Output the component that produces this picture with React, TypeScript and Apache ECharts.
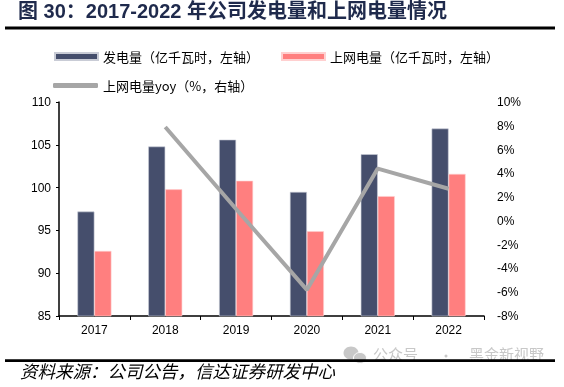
import React, { useEffect, useRef } from "react";
import * as echarts from "echarts";

const categories = ["2017", "2018", "2019", "2020", "2021", "2022"];
const generation = [97.2, 104.8, 105.6, 99.5, 103.9, 106.9];
const gridPower = [92.6, 99.8, 100.8, 94.9, 99.0, 101.6];
const gridYoy: (number | null)[] = [null, 7.9, 1.0, -5.8, 4.4, 2.7];

const titleText = "图 30：2017-2022 年公司发电量和上网电量情况";
const sourceText = "资料来源：公司公告，信达证券研发中心";
const watermarkLeft = "公众号";
const watermarkRight = "黑金新视野";
const seriesNames = ["发电量（亿千瓦时，左轴）", "上网电量（亿千瓦时，左轴）", "上网电量yoy（%，右轴）"];

export default function App() {
  const ref = useRef<HTMLDivElement>(null);
  useEffect(() => {
    const chart = echarts.init(ref.current!, null, { renderer: "svg" });
    const font = "Liberation Sans, Arial, Noto Sans CJK SC, sans-serif";
    const cjk = "Noto Sans CJK SC, sans-serif";
    const legendText = { fontSize: 13, color: "#000", fontFamily: cjk };
    chart.setOption({
      animation: false,
      textStyle: { fontFamily: font },
      graphic: [
        {
          type: "text",
          left: 18,
          top: 1,
          style: {
            text: titleText,
            fontSize: 20,
            fontWeight: "bold",
            fill: "#1F2A4C",
            fontFamily: "Liberation Sans, Noto Sans CJK SC, sans-serif",
          },
        },
        { type: "rect", shape: { x: 5, y: 26.5, width: 550, height: 3 }, style: { fill: "#000" } },
        { type: "ellipse", shape: { cx: 351, cy: 353, rx: 7.5, ry: 6.5 }, style: { fill: "#C8C8C8" } },
        { type: "ellipse", shape: { cx: 360, cy: 358, rx: 6.5, ry: 5.5 }, style: { fill: "#C8C8C8", stroke: "#fff", lineWidth: 1 } },
        {
          type: "text",
          left: 373,
          top: 346,
          style: { text: watermarkLeft, fontSize: 15, fill: "#C8C8C8", fontFamily: cjk },
        },
        { type: "circle", shape: { cx: 446, cy: 356, r: 1.5 }, style: { fill: "#C8C8C8" } },
        {
          type: "text",
          left: 469,
          top: 346,
          style: { text: watermarkRight, fontSize: 15, fill: "#C8C8C8", fontFamily: cjk },
        },
        { type: "rect", shape: { x: 5, y: 359.3, width: 550, height: 2.7 }, style: { fill: "#000" } },
        {
          type: "text",
          left: 20,
          top: 362,
          style: {
            text: sourceText,
            fontSize: 17.5,
            fontStyle: "italic",
            fill: "#000",
            fontFamily: cjk,
          },
        },
      ],
      legend: [
        {
          data: [seriesNames[0]],
          left: 49,
          top: 45,
          itemWidth: 43,
          itemHeight: 7,
          icon: "rect",
          textStyle: legendText,
        },
        {
          data: [seriesNames[1]],
          left: 276,
          top: 45,
          itemWidth: 43,
          itemHeight: 7,
          icon: "rect",
          textStyle: legendText,
        },
        {
          data: [seriesNames[2]],
          left: 48,
          top: 74,
          itemWidth: 45,
          itemHeight: 5,
          icon: "roundRect",
          textStyle: legendText,
        },
      ],
      grid: { left: 59, right: 80, top: 102, bottom: 71, containLabel: false },
      xAxis: {
        type: "category",
        data: categories,
        axisLine: { onZero: false, lineStyle: { color: "#000", width: 1.5 } },
        axisTick: { show: true, length: 4, lineStyle: { color: "#000" } },
        axisLabel: { color: "#000", fontSize: 12, margin: 8, fontFamily: font },
      },
      yAxis: [
        {
          type: "value",
          min: 85,
          max: 110,
          interval: 5,
          splitLine: { show: false },
          axisLine: { show: true, lineStyle: { color: "#000", width: 1.5 } },
          axisTick: { show: true, length: 3, lineStyle: { color: "#000" } },
          axisLabel: { color: "#000", fontSize: 12, margin: 8, fontFamily: font },
        },
        {
          type: "value",
          min: -8,
          max: 10,
          interval: 2,
          position: "right",
          splitLine: { show: false },
          axisLine: { show: false },
          axisTick: { show: false },
          axisLabel: { color: "#000", fontSize: 12, margin: 13, formatter: "{value}%", fontFamily: font },
        },
      ],
      series: [
        {
          name: seriesNames[0],
          type: "bar",
          data: generation,
          barGap: "0%",
          barCategoryGap: "52%",
          itemStyle: { color: "#454E6C", borderColor: "#C9CCD6", borderWidth: 0.6 },
        },
        {
          name: seriesNames[1],
          type: "bar",
          data: gridPower,
          itemStyle: { color: "#FF7F7F", borderColor: "#FFD0D0", borderWidth: 0.6 },
        },
        {
          name: seriesNames[2],
          type: "line",
          yAxisIndex: 1,
          data: gridYoy,
          showSymbol: false,
          symbol: "none",
          lineStyle: { color: "#A6A6A6", width: 4 },
          itemStyle: { color: "#A6A6A6" },
        },
      ],
    });
    return () => chart.dispose();
  }, []);
  return <div ref={ref} style={{ position: "fixed", left: 0, top: 0, width: 564, height: 387 }} />;
}
